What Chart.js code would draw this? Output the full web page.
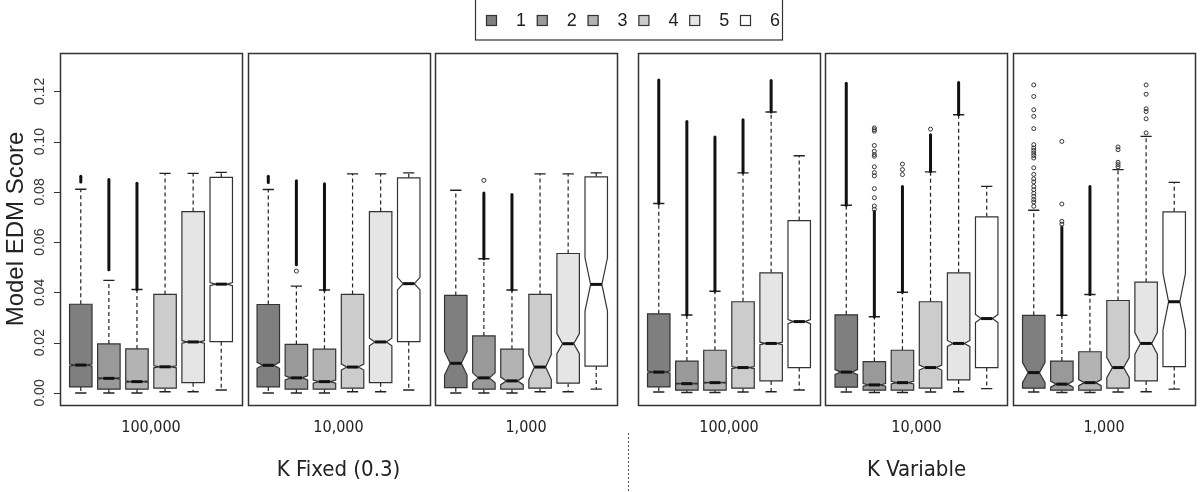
<!DOCTYPE html>
<html>
<head>
<meta charset="utf-8">
<script src="https://cdn.jsdelivr.net/npm/chart.js@4.4.1/dist/chart.umd.min.js"></script>
<style>
  body { margin: 0; background: #fff; }
  canvas { display: block; }
</style>
</head>
<body>
<canvas id="boxChart" width="1200" height="492"></canvas>
<script>
// categories
const seriesNames = ['1', '2', '3', '4', '5', '6']
const panelLabels = ['100,000', '10,000', '1,000', '100,000', '10,000', '1,000']
const groupLabels = ['K Fixed (0.3)', 'K Variable']
const yTicks = [0, 0.02, 0.04, 0.06, 0.08, 0.10, 0.12]
const yTickLabels = ['0.00', '0.02', '0.04', '0.06', '0.08', '0.10', '0.12']

// box stats, one row per panel, one value per series
const whiskerLo = [
  [0.0000, 0.0000, 0.0000, 0.0005, 0.0005, 0.0012],
  [0.0000, 0.0000, 0.0000, 0.0005, 0.0005, 0.0012],
  [0.0000, 0.0000, 0.0000, 0.0005, 0.0005, 0.0015],
  [0.0004, 0.0002, 0.0002, 0.0004, 0.0005, 0.0012],
  [0.0004, 0.0002, 0.0002, 0.0004, 0.0005, 0.0017],
  [0.0004, 0.0002, 0.0002, 0.0004, 0.0005, 0.0015]
]
const q1 = [
  [0.0024, 0.0015, 0.0015, 0.0019, 0.0041, 0.0204],
  [0.0024, 0.0015, 0.0015, 0.0019, 0.0041, 0.0204],
  [0.0021, 0.0015, 0.0015, 0.0019, 0.0039, 0.0107],
  [0.0024, 0.0011, 0.0011, 0.0019, 0.0048, 0.0101],
  [0.0023, 0.0011, 0.0011, 0.0019, 0.0052, 0.0101],
  [0.0019, 0.0011, 0.0011, 0.0019, 0.0048, 0.0105]
]
const median = [
  [0.0111, 0.0058, 0.0045, 0.0104, 0.0203, 0.0433],
  [0.0110, 0.0060, 0.0045, 0.0103, 0.0203, 0.0435],
  [0.0118, 0.0060, 0.0048, 0.0103, 0.0196, 0.0432],
  [0.0083, 0.0037, 0.0041, 0.0101, 0.0197, 0.0284],
  [0.0083, 0.0032, 0.0041, 0.0101, 0.0197, 0.0296],
  [0.0081, 0.0035, 0.0041, 0.0101, 0.0197, 0.0363]
]
const q3 = [
  [0.0353, 0.0195, 0.0175, 0.0392, 0.0722, 0.0858],
  [0.0352, 0.0193, 0.0174, 0.0392, 0.0722, 0.0856],
  [0.0388, 0.0227, 0.0174, 0.0392, 0.0555, 0.0860],
  [0.0315, 0.0127, 0.0170, 0.0363, 0.0478, 0.0686],
  [0.0311, 0.0125, 0.0170, 0.0363, 0.0478, 0.0701],
  [0.0309, 0.0127, 0.0164, 0.0368, 0.0441, 0.0721]
]
const whiskerHi = [
  [0.0811, 0.0448, 0.0412, 0.0874, 0.0874, 0.0878],
  [0.0810, 0.0425, 0.0410, 0.0872, 0.0872, 0.0876],
  [0.0807, 0.0534, 0.0410, 0.0872, 0.0872, 0.0876],
  [0.0754, 0.0310, 0.0405, 0.0876, 0.1118, 0.0944],
  [0.0747, 0.0303, 0.0401, 0.0880, 0.1107, 0.0822],
  [0.0727, 0.0309, 0.0392, 0.0889, 0.1021, 0.0838]
]
// half height of the notch around the median
const notch = [
  [0.0004, 0.0003, 0.0003, 0.0004, 0.0005, 0.0006],
  [0.0012, 0.0008, 0.0006, 0.0012, 0.0015, 0.0025],
  [0.0047, 0.0020, 0.0015, 0.0050, 0.0040, 0.0106],
  [0.0004, 0.0002, 0.0002, 0.0004, 0.0005, 0.0008],
  [0.0010, 0.0005, 0.0005, 0.0010, 0.0012, 0.0016],
  [0.0040, 0.0012, 0.0012, 0.0040, 0.0043, 0.0113]
]
// outliers so dense they print as a solid run [from, to]
const outlierRuns = [
  [[[0.0840, 0.0862]], [[0.0490, 0.0850]], [[0.0412, 0.0835]], [], [], []],
  [[[0.0838, 0.0862]], [[0.0510, 0.0845]], [[0.0410, 0.0833]], [], [], []],
  [[], [[0.0534, 0.0796]], [[0.0410, 0.0790]], [], [], []],
  [[[0.0754, 0.1246]], [[0.0310, 0.1080]], [[0.0405, 0.1019]], [[0.0876, 0.1087]], [[0.1118, 0.1244]], []],
  [[[0.0747, 0.1233]], [[0.0303, 0.0723]], [[0.0401, 0.0822]], [[0.0880, 0.1028]], [[0.1107, 0.1236]], []],
  [[], [[0.0309, 0.0660]], [[0.0392, 0.0822]], [], [], []]
]
// single outliers
const outlierPoints = [
  [[], [], [], [], [], []],
  [[], [0.0485], [], [], [], []],
  [[], [0.0846], [], [], [], []],
  [[], [], [], [], [], []],
  [[], [0.1055, 0.1048, 0.1042, 0.0985, 0.0962, 0.0949, 0.0942, 0.0900, 0.0877, 0.0864, 0.0813, 0.0777, 0.0744, 0.0731],
    [0.0911, 0.0889, 0.0869], [0.1050], [], []],
  [[0.1226, 0.1180, 0.1127, 0.1101, 0.1052, 0.0988, 0.0975, 0.0965, 0.0955, 0.0945, 0.0935, 0.0896, 0.0870, 0.0852, 0.0840, 0.0822, 0.0809, 0.0795, 0.0783, 0.0770, 0.0760, 0.0743],
    [0.1001, 0.0752, 0.0683, 0.0672], [], [0.0979, 0.0968, 0.0918, 0.0909, 0.0900],
    [0.1226, 0.1189, 0.1131, 0.1120, 0.1091, 0.1035], []]
]

const boxColors = ['#7f7f7f', '#999999', '#b3b3b3', '#cccccc', '#e5e5e5', '#ffffff']

// layout of panels along x, in box units (R style: 0.5..6.5 plus 4%)
const PANEL_W = 6.48
const GAP = 0.195
const GROUP_GAP = 0.746
const panelStart = []
let pos = 0
for (let p = 0; p < panelLabels.length; p++) {
  panelStart.push(pos)
  pos += PANEL_W + (p === 2 ? GROUP_GAP : GAP)
}
const xMax = panelStart[5] + PANEL_W
const boxCenter = (p, c) => panelStart[p] + c + 1 - 0.26

const pts = []
outlierPoints.forEach((panel, p) => {
  panel.forEach((vals, c) => {
    vals.forEach(v => pts.push({ x: boxCenter(p, c), y: v }))
  })
})

const boxPlugin = {
  id: 'boxes',
  beforeDatasetsDraw(chart) {
    const ctx = chart.ctx
    const x = chart.scales.x
    const y = chart.scales.y
    const area = chart.chartArea
    ctx.save()
    for (let p = 0; p < panelLabels.length; p++) {
      for (let c = 0; c < seriesNames.length; c++) {
        const cx = x.getPixelForValue(boxCenter(p, c))
        const half = x.getPixelForValue(boxCenter(p, c) + 0.4) - cx
        const yq1 = y.getPixelForValue(q1[p][c])
        const yq3 = y.getPixelForValue(q3[p][c])
        const ymed = y.getPixelForValue(median[p][c])
        const ynl = y.getPixelForValue(median[p][c] - notch[p][c])
        const ynh = y.getPixelForValue(median[p][c] + notch[p][c])
        const ylo = y.getPixelForValue(whiskerLo[p][c])
        const yhi = y.getPixelForValue(whiskerHi[p][c])

        // whiskers
        ctx.strokeStyle = '#222'
        ctx.lineWidth = 1.2
        ctx.setLineDash([4, 3])
        ctx.beginPath()
        ctx.moveTo(cx, yq3); ctx.lineTo(cx, yhi)
        ctx.moveTo(cx, yq1); ctx.lineTo(cx, ylo)
        ctx.stroke()
        ctx.setLineDash([])
        ctx.lineWidth = 1.4
        ctx.beginPath()
        ctx.moveTo(cx - half / 2, yhi); ctx.lineTo(cx + half / 2, yhi)
        ctx.moveTo(cx - half / 2, ylo); ctx.lineTo(cx + half / 2, ylo)
        ctx.stroke()

        // notched box
        ctx.beginPath()
        ctx.moveTo(cx - half, yq1)
        ctx.lineTo(cx - half, ynl)
        ctx.lineTo(cx - half / 2, ymed)
        ctx.lineTo(cx - half, ynh)
        ctx.lineTo(cx - half, yq3)
        ctx.lineTo(cx + half, yq3)
        ctx.lineTo(cx + half, ynh)
        ctx.lineTo(cx + half / 2, ymed)
        ctx.lineTo(cx + half, ynl)
        ctx.lineTo(cx + half, yq1)
        ctx.closePath()
        ctx.fillStyle = boxColors[c]
        ctx.fill()
        ctx.strokeStyle = '#333'
        ctx.lineWidth = 1.2
        ctx.stroke()

        // median
        ctx.strokeStyle = '#111'
        ctx.lineWidth = 3
        ctx.beginPath()
        ctx.moveTo(cx - half / 2, ymed); ctx.lineTo(cx + half / 2, ymed)
        ctx.stroke()

        // dense outliers
        ctx.lineWidth = 3
        ctx.lineCap = 'round'
        outlierRuns[p][c].forEach(r => {
          ctx.beginPath()
          ctx.moveTo(cx, y.getPixelForValue(r[0]))
          ctx.lineTo(cx, y.getPixelForValue(r[1]))
          ctx.stroke()
        })
        ctx.lineCap = 'butt'
      }
      // panel frame
      const x0 = Math.round(x.getPixelForValue(panelStart[p])) + 0.5
      const x1 = Math.round(x.getPixelForValue(panelStart[p] + PANEL_W)) + 0.5
      ctx.strokeStyle = '#333'
      ctx.lineWidth = 1.5
      ctx.strokeRect(x0, area.top + 0.5, x1 - x0, area.bottom - area.top)
    }
    ctx.restore()
  },
  afterDraw(chart) {
    const ctx = chart.ctx
    const x = chart.scales.x
    const y = chart.scales.y
    const area = chart.chartArea
    ctx.save()

    // y axis
    ctx.strokeStyle = '#333'
    ctx.lineWidth = 1
    ctx.beginPath()
    ctx.moveTo(area.left + 0.5, y.getPixelForValue(yTicks[0]))
    ctx.lineTo(area.left + 0.5, y.getPixelForValue(yTicks[yTicks.length - 1]))
    yTicks.forEach(t => {
      const ty = Math.round(y.getPixelForValue(t)) + 0.5
      ctx.moveTo(area.left, ty); ctx.lineTo(area.left - 6, ty)
    })
    ctx.stroke()
    ctx.fillStyle = '#333'
    ctx.font = '14px "Liberation Sans", Arial, sans-serif'
    ctx.textAlign = 'center'
    ctx.textBaseline = 'middle'
    yTicks.forEach((t, i) => {
      ctx.save()
      ctx.translate(area.left - 20, y.getPixelForValue(t))
      ctx.rotate(-Math.PI / 2)
      ctx.fillText(yTickLabels[i], 0, 0)
      ctx.restore()
    })
    ctx.save()
    ctx.fillStyle = '#222'
    ctx.font = '24px "Liberation Sans", Arial, sans-serif'
    ctx.translate(16, (area.top + area.bottom) / 2)
    ctx.rotate(-Math.PI / 2)
    ctx.fillText('Model EDM Score', 0, 0)
    ctx.restore()

    // panel and group labels
    ctx.fillStyle = '#222'
    ctx.font = '16px "Liberation Sans Narrow", "DejaVu Sans Condensed", "Liberation Sans", sans-serif'
    panelLabels.forEach((lab, p) => {
      ctx.fillText(lab, x.getPixelForValue(panelStart[p] + PANEL_W / 2), area.bottom + 23)
    })
    ctx.font = '22px "Liberation Sans Narrow", "DejaVu Sans Condensed", "Liberation Sans", sans-serif'
    const g1 = (x.getPixelForValue(panelStart[0]) + x.getPixelForValue(panelStart[2] + PANEL_W)) / 2
    const g2 = (x.getPixelForValue(panelStart[3]) + x.getPixelForValue(panelStart[5] + PANEL_W)) / 2
    ctx.fillText(groupLabels[0], g1, area.bottom + 65)
    ctx.fillText(groupLabels[1], g2, area.bottom + 65)

    // dotted divider between groups
    const xd = Math.round((x.getPixelForValue(panelStart[2] + PANEL_W) + x.getPixelForValue(panelStart[3])) / 2) + 0.5
    ctx.strokeStyle = '#555'
    ctx.lineWidth = 1
    ctx.setLineDash([2, 2])
    ctx.beginPath()
    ctx.moveTo(xd, area.bottom + 28); ctx.lineTo(xd, chart.height)
    ctx.stroke()
    ctx.setLineDash([])

    // legend box
    ctx.strokeStyle = '#333'
    ctx.lineWidth = 1.2
    ctx.strokeRect(475.5, -1, 307, 41)
    ctx.font = '18px "Liberation Sans", Arial, sans-serif'
    ctx.textAlign = 'left'
    seriesNames.forEach((s, i) => {
      const lx = 486 + i * 50.8
      ctx.fillStyle = boxColors[i]
      ctx.fillRect(lx, 15, 11, 11)
      ctx.strokeRect(lx + 0.5, 15.5, 10, 10)
      ctx.fillStyle = '#222'
      ctx.fillText(s, lx + 30, 21)
    })
    ctx.restore()
  }
}

const chartCanvas = document.getElementById('boxChart')
const boxChart = new Chart(chartCanvas, {
  type: 'scatter',
  data: {
    datasets: [{
      label: 'outliers',
      data: pts,
      pointRadius: 2,
      pointBorderWidth: 1,
      pointBorderColor: '#333',
      pointBackgroundColor: 'rgba(0,0,0,0)'
    }]
  },
  options: {
    responsive: false,
    animation: false,
    devicePixelRatio: 1,
    layout: { padding: { left: 60, right: 2, top: 53, bottom: 87 } },
    scales: {
      x: { type: 'linear', display: false, min: 0, max: xMax },
      y: { display: false, min: -0.0048, max: 0.1353 }
    },
    plugins: {
      legend: { display: false },
      tooltip: { enabled: false }
    }
  },
  plugins: [boxPlugin]
})
</script>
</body>
</html>
